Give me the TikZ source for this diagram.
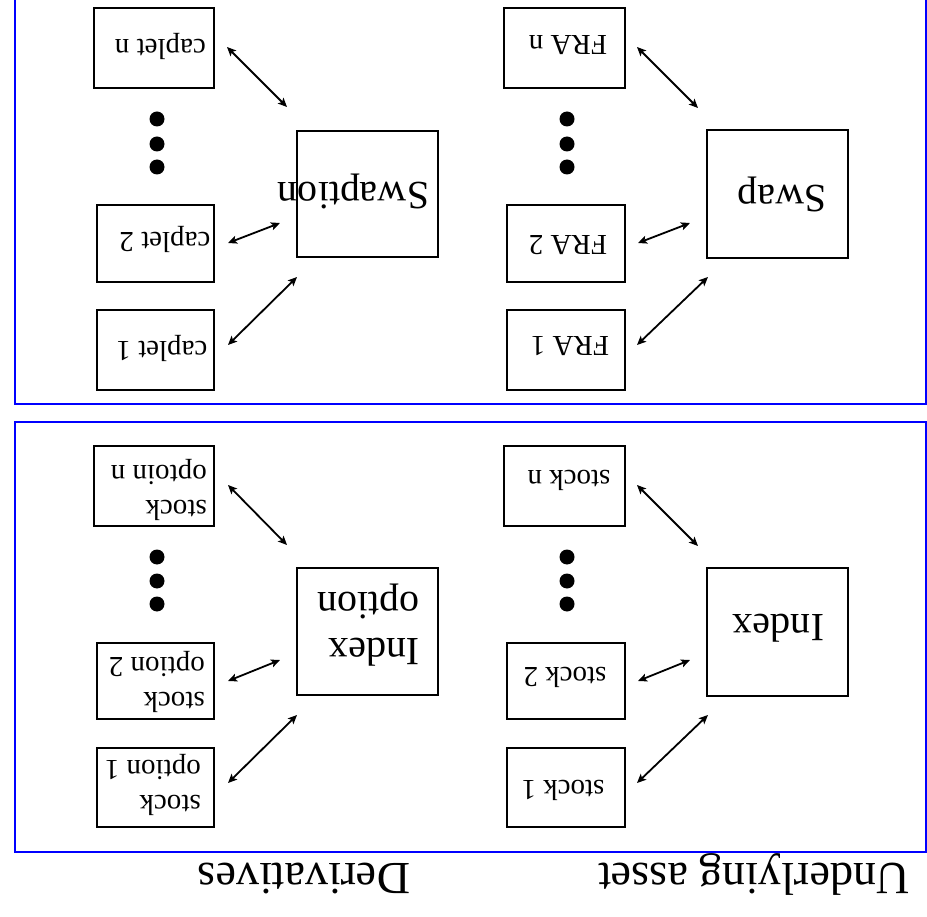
\documentclass[tikz,border=0pt]{standalone}
\usepackage{fontspec}
\setmainfont{Liberation Serif}
\usetikzlibrary{arrows.meta}

\tikzset{
  panel/.style={draw=blue, line width=2pt},
  box/.style={draw=black, line width=2.2pt, rectangle, inner sep=0pt},
  smalltxt/.style={rotate=180, inner sep=0pt, font=\fontsize{29}{35}\selectfont},
  bigtxt/.style={rotate=180, inner sep=0pt, font=\fontsize{40}{46}\selectfont},
  headtxt/.style={rotate=180, inner sep=0pt, anchor=base, font=\fontsize{46}{52}\selectfont},
  link/.style={line width=1.8pt, {Stealth[length=9pt,width=8pt,inset=2pt]}-{Stealth[length=9pt,width=8pt,inset=2pt]}},
  dot/.style={fill=black},
}

\begin{document}
\begin{tikzpicture}[x=1pt, y=-1pt]
\useasboundingbox (0,0) rectangle (927,917);
\clip (0,0) rectangle (927,917);

% panels
\draw[panel] (15,-10) rectangle (926,404);
\draw[panel] (15,422) rectangle (926,852);

% ---------- upper panel, left group (caplets / swaption)
\node[box, minimum width=120pt, minimum height=80pt] (capn) at (154,48) {};
\node[box, minimum width=117pt, minimum height=77pt] (cap2) at (155.5,243.5) {};
\node[box, minimum width=117pt, minimum height=80pt] (cap1) at (155.5,350) {};
\node[box, minimum width=141pt, minimum height=126pt] (swaption) at (367.5,194) {};
\node[smalltxt] (capnT) at (160.5,46) {caplet n};
\node[smalltxt] (cap2T) at (165,239) {caplet 2};
\node[smalltxt] (cap1T) at (162,348) {caplet 1};
\node[bigtxt] (swaptionT) at (353.5,191) {Swaption};
\fill[dot] (157,119) circle (7.5) (157,144) circle (7.5) (157,167) circle (7.5);
\coordinate (capnA) at (227,47);  \coordinate (capnB) at (287,107);
\coordinate (cap2A) at (228,243); \coordinate (cap2B) at (280,223);
\coordinate (cap1A) at (228,345); \coordinate (cap1B) at (297,277);
\draw[link] (capnA) -- (capnB);
\draw[link] (cap2A) -- (cap2B);
\draw[link] (cap1A) -- (cap1B);

% ---------- upper panel, right group (FRAs / swap)
\node[box, minimum width=121pt, minimum height=80pt] (fran) at (564.5,48) {};
\node[box, minimum width=118pt, minimum height=77pt] (fra2) at (566,243.5) {};
\node[box, minimum width=118pt, minimum height=80pt] (fra1) at (566,350) {};
\node[box, minimum width=141pt, minimum height=128pt] (swap) at (777.5,194) {};
\node[smalltxt] (franT) at (568,45) {FRA n};
\node[smalltxt] (fra2T) at (568,245) {FRA 2};
\node[smalltxt] (fra1T) at (570,346) {FRA 1};
\node[bigtxt] (swapT) at (782,194) {Swap};
\fill[dot] (567,119) circle (7.5) (567,144) circle (7.5) (567,167) circle (7.5);
\coordinate (franA) at (637,47);  \coordinate (franB) at (698,108);
\coordinate (fra2A) at (638,243); \coordinate (fra2B) at (690,223);
\coordinate (fra1A) at (637,345); \coordinate (fra1B) at (708,277);
\draw[link] (franA) -- (franB);
\draw[link] (fra2A) -- (fra2B);
\draw[link] (fra1A) -- (fra1B);

% ---------- lower panel, left group (stock options / index option)
\node[box, minimum width=120pt, minimum height=80pt] (son) at (154,486) {};
\node[box, minimum width=117pt, minimum height=76pt] (so2) at (155.5,681) {};
\node[box, minimum width=117pt, minimum height=79pt] (so1) at (155.5,787.5) {};
\node[box, minimum width=141pt, minimum height=127pt] (idxopt) at (367.5,631.5) {};
\node[smalltxt, align=left, anchor=west] (sonT) at (207,490) {stock\\optoin n};
\node[smalltxt, align=left, anchor=west] (so2T) at (205,681.5) {stock\\option 2};
\node[smalltxt, align=left, anchor=west] (so1T) at (201,784.5) {stock\\option 1};
\node[bigtxt, align=left, anchor=west] (idxoptT) at (420,625) {Index\\option};
\fill[dot] (157,557) circle (7.5) (157,581) circle (7.5) (157,604) circle (7.5);
\coordinate (sonA) at (228,485); \coordinate (sonB) at (287,545);
\coordinate (so2A) at (228,681); \coordinate (so2B) at (280,660);
\coordinate (so1A) at (228,783); \coordinate (so1B) at (297,715);
\draw[link] (sonA) -- (sonB);
\draw[link] (so2A) -- (so2B);
\draw[link] (so1A) -- (so1B);

% ---------- lower panel, right group (stocks / index)
\node[box, minimum width=121pt, minimum height=80pt] (stn) at (564.5,486) {};
\node[box, minimum width=118pt, minimum height=76pt] (st2) at (566,681) {};
\node[box, minimum width=118pt, minimum height=79pt] (st1) at (566,787.5) {};
\node[box, minimum width=141pt, minimum height=128pt] (idx) at (777.5,632) {};
\node[smalltxt] (stnT) at (569,480) {stock n};
\node[smalltxt] (st2T) at (565,677) {stock 2};
\node[smalltxt] (st1T) at (563,790) {stock 1};
\node[bigtxt] (idxT) at (778.5,628) {Index};
\fill[dot] (567,557) circle (7.5) (567,581) circle (7.5) (567,604) circle (7.5);
\coordinate (stnA) at (637,485); \coordinate (stnB) at (698,546);
\coordinate (st2A) at (638,681); \coordinate (st2B) at (690,660);
\coordinate (st1A) at (637,783); \coordinate (st1B) at (708,715);
\draw[link] (stnA) -- (stnB);
\draw[link] (st2A) -- (st2B);
\draw[link] (st1A) -- (st1B);

% ---------- column headings
\node[headtxt] (derivT) at (304,863) {Derivatives};
\node[headtxt] (underT) at (754,863) {Underlying asset};
\end{tikzpicture}
\end{document}
